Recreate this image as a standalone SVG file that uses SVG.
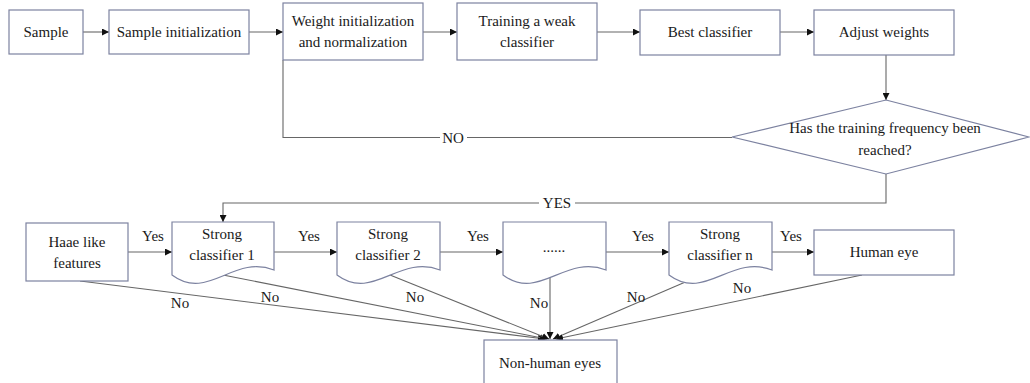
<svg xmlns="http://www.w3.org/2000/svg" width="1030" height="383" viewBox="0 0 1030 383" font-family="'Liberation Serif', 'Times New Roman', 'DejaVu Serif', serif">
  <defs>
    <marker id="arrow" viewBox="0 0 10 10" refX="10" refY="5" markerWidth="7" markerHeight="7" markerUnits="userSpaceOnUse" orient="auto">
      <path d="M0,0 L10,5 L0,10 Z" fill="#111"/>
    </marker>
    <style>
      .box { fill: #fff; stroke: #7c82a0; stroke-width: 1.2; }
      .line { fill: none; stroke: #666; stroke-width: 1.1; }
      .arr { marker-end: url(#arrow); }
      text { font-family: 'Liberation Serif', 'Times New Roman', 'DejaVu Serif', serif; font-size: 15px; fill: #1a1a1a; text-anchor: middle; dominant-baseline: central; }
      .bg { fill: #fff; }
    </style>
  </defs>

  <rect width="1030" height="383" fill="#fff"/>

  <!-- connectors -->
  <g id="connectors">
    <!-- top row flow -->
    <path class="line arr" d="M83,32 H109"/>
    <path class="line arr" d="M249,32 H283"/>
    <path class="line arr" d="M423,32 H457"/>
    <path class="line arr" d="M597,32 H640"/>
    <path class="line arr" d="M780,32 H814"/>
    <path class="line arr" d="M886,55 V100"/>
    <!-- NO loop back -->
    <path class="line" d="M732,137.5 H283 V60"/>
    <rect class="bg" x="440" y="130" width="27" height="16"/>
    <text x="453" y="138">NO</text>
    <!-- YES down to cascade -->
    <path class="line arr" d="M886,174 V203 H223 V222"/>
    <rect class="bg" x="539" y="195" width="36" height="16"/>
    <text x="557" y="203">YES</text>

    <!-- cascade Yes arrows -->
    <path class="line arr" d="M128,252 H172"/>
    <text x="153" y="236">Yes</text>
    <path class="line arr" d="M274,252 H337"/>
    <text x="309" y="236">Yes</text>
    <path class="line arr" d="M440,252 H503"/>
    <text x="478" y="236">Yes</text>
    <path class="line arr" d="M606,252 H669"/>
    <text x="643" y="236">Yes</text>
    <path class="line arr" d="M772,252 H814"/>
    <text x="791" y="236">Yes</text>

    <!-- rejections to Non-human eyes -->
    <path class="line arr" d="M80,281 L545,339"/>
    <text x="180" y="303">No</text>
    <path class="line arr" d="M223,275 L547,339"/>
    <text x="270" y="297">No</text>
    <path class="line arr" d="M390,275 L549,339"/>
    <text x="415" y="297">No</text>
    <path class="line arr" d="M550,278 V339"/>
    <text x="539" y="303">No</text>
    <path class="line arr" d="M697,277 L553,339"/>
    <text x="636" y="297">No</text>
    <path class="line arr" d="M862,275 L556,339"/>
    <text x="742" y="288">No</text>
  </g>

  <!-- training stage -->
  <g id="sample">
    <rect class="box" x="9" y="10" width="74" height="44"/>
    <text x="46" y="32">Sample</text>
  </g>
  <g id="sample-init">
    <rect class="box" x="109" y="10" width="140" height="44"/>
    <text x="179" y="32">Sample initialization</text>
  </g>
  <g id="weight-init">
    <rect class="box" x="283" y="3" width="140" height="57"/>
    <text x="353" y="21">Weight initialization</text>
    <text x="353" y="42">and normalization</text>
  </g>
  <g id="train-weak">
    <rect class="box" x="457" y="3" width="140" height="57"/>
    <text x="527" y="21">Training a weak</text>
    <text x="527" y="42">classifier</text>
  </g>
  <g id="best-classifier">
    <rect class="box" x="640" y="10" width="140" height="45"/>
    <text x="710" y="32">Best classifier</text>
  </g>
  <g id="adjust-weights">
    <rect class="box" x="814" y="10" width="140" height="45"/>
    <text x="884" y="32">Adjust weights</text>
  </g>
  <g id="training-check">
    <polygon class="box" points="886,100 1029,137 886,174 732,137"/>
    <text x="885" y="128">Has the training frequency been</text>
    <text x="885" y="150">reached?</text>
  </g>

  <!-- detection cascade -->
  <g id="haar-features">
    <rect class="box" x="26" y="223" width="102" height="58"/>
    <text x="77" y="242">Haae like</text>
    <text x="77" y="263">features</text>
  </g>
  <g id="strong-1">
    <path class="box" d="M172,222 H274 V270 C233,254 208,302 172,275 Z"/>
    <text x="222" y="234">Strong</text>
    <text x="222" y="255">classifier 1</text>
  </g>
  <g id="strong-2">
    <path class="box" d="M337,222 H440 V270 C399,254 373,302 337,275 Z"/>
    <text x="388" y="234">Strong</text>
    <text x="388" y="255">classifier 2</text>
  </g>
  <g id="strong-mid">
    <path class="box" d="M503,222 H606 V270 C565,254 539,302 503,275 Z"/>
    <text x="554" y="247">......</text>
  </g>
  <g id="strong-n">
    <path class="box" d="M669,222 H772 V270 C731,254 705,302 669,275 Z"/>
    <text x="720" y="234">Strong</text>
    <text x="720" y="255">classifier n</text>
  </g>
  <g id="human-eye">
    <rect class="box" x="814" y="230" width="140" height="45"/>
    <text x="884" y="252">Human eye</text>
  </g>
  <g id="non-human">
    <rect class="box" x="484" y="340" width="133" height="50"/>
    <text x="550" y="363">Non-human eyes</text>
  </g>
</svg>
